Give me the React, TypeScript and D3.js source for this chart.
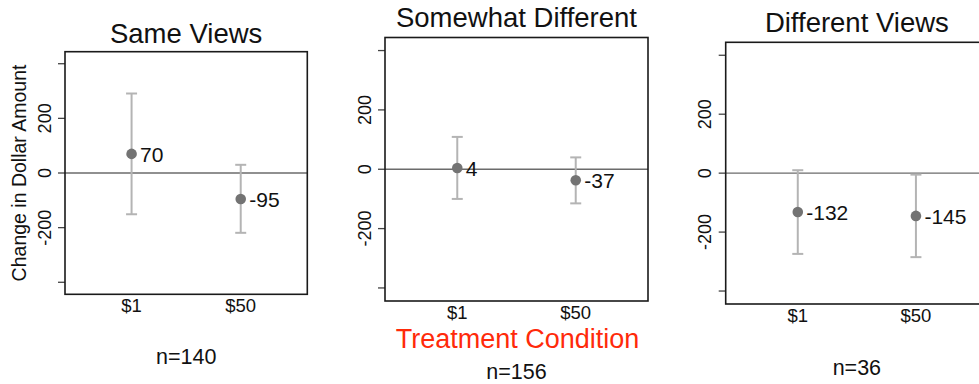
import * as d3 from "d3";

// data
const conditions = ["$1", "$50"];
const groups = ["Same Views", "Somewhat Different", "Different Views"];
const sampleSizes = [140, 156, 36];
const means = [
  [70, -95],
  [4, -37],
  [-132, -145],
];
const upper = [
  [291, 30],
  [109, 40],
  [10, -5],
];
const lower = [
  [-151, -219],
  [-100, -115],
  [-274, -285],
];
const yTicks = [-400, -200, 0, 200, 400];
const yTickLabels = [-200, 0, 200];

// frame of each panel in page pixels
const frames = [
  { left: 65, right: 307.3, top: 51.7, bottom: 294.3, titleY: 43.3, nY: 364 },
  { left: 385, right: 648, top: 37.5, bottom: 301, titleY: 27.3, nY: 379 },
  { left: 725.7, right: 988, top: 42.3, bottom: 304, titleY: 32.3, nY: 375 },
];

const FONT = "'Liberation Sans', Arial, Helvetica, sans-serif";

function Panel({ i }: { i: number }) {
  const f = frames[i];
  const x = d3
    .scaleBand<string>()
    .domain(conditions)
    .range([f.left, f.right])
    .paddingInner(0.7)
    .paddingOuter(0.46);
  const cx = (c: string) => (x(c) ?? 0) + x.bandwidth() / 2;
  const y = d3.scaleLinear().domain([-444, 444]).range([f.bottom, f.top]);
  const midX = (f.left + f.right) / 2;

  return (
    <g>
      <text x={midX} y={f.titleY} textAnchor="middle" fontSize={27.5} fill="#111">
        {groups[i]}
      </text>
      {/* y ticks */}
      {yTicks.map((t) => (
        <line key={t} x1={f.left - 7} x2={f.left} y1={y(t)} y2={y(t)} stroke="#444" strokeWidth={1.3} />
      ))}
      {yTickLabels.map((t) => (
        <text
          key={t}
          transform={`translate(${f.left - 14.5},${y(t)}) rotate(-90)`}
          textAnchor="middle"
          fontSize={18}
          fill="#111"
        >
          {t}
        </text>
      ))}
      {/* zero reference line */}
      <line x1={f.left} x2={f.right} y1={y(0)} y2={y(0)} stroke="#6b6b6b" strokeWidth={1.4} />
      {/* error bars */}
      {conditions.map((c, j) => (
        <g key={c} stroke="#b4b4b4" strokeWidth={2}>
          <line x1={cx(c)} x2={cx(c)} y1={y(lower[i][j])} y2={y(upper[i][j])} />
          <line x1={cx(c) - 5.5} x2={cx(c) + 5.5} y1={y(lower[i][j])} y2={y(lower[i][j])} />
          <line x1={cx(c) - 5.5} x2={cx(c) + 5.5} y1={y(upper[i][j])} y2={y(upper[i][j])} />
        </g>
      ))}
      {conditions.map((c, j) => (
        <g key={c}>
          <circle cx={cx(c)} cy={y(means[i][j])} r={5.3} fill="#737373" />
          <text x={cx(c) + 8.5} y={y(means[i][j]) + 8} fontSize={21} fill="#111">
            {means[i][j]}
          </text>
        </g>
      ))}
      {/* frame */}
      <rect
        x={f.left}
        y={f.top}
        width={f.right - f.left}
        height={f.bottom - f.top}
        fill="none"
        stroke="#1a1a1a"
        strokeWidth={1.6}
      />
      {conditions.map((c) => (
        <text key={c} x={cx(c)} y={f.bottom + 17.5} textAnchor="middle" fontSize={18.5} fill="#111">
          {c}
        </text>
      ))}
      <text x={midX} y={f.nY} textAnchor="middle" fontSize={21.5} fill="#111">
        {`n=${sampleSizes[i]}`}
      </text>
    </g>
  );
}

export default function App() {
  const width = 979;
  const height = 384;
  return (
    <svg
      width={width}
      height={height}
      style={{ position: "absolute", left: 0, top: 0, background: "#fff" }}
      fontFamily={FONT}
    >
      <rect width={width} height={height} fill="#fff" />
      {groups.map((g, i) => (
        <Panel key={g} i={i} />
      ))}
      <text
        transform={`translate(26,173) rotate(-90)`}
        textAnchor="middle"
        fontSize={19.5}
        fill="#111"
      >
        Change in Dollar Amount
      </text>
      <text x={517.5} y={347.5} textAnchor="middle" fontSize={27} fill="#ff2a0a">
        Treatment Condition
      </text>
    </svg>
  );
}
